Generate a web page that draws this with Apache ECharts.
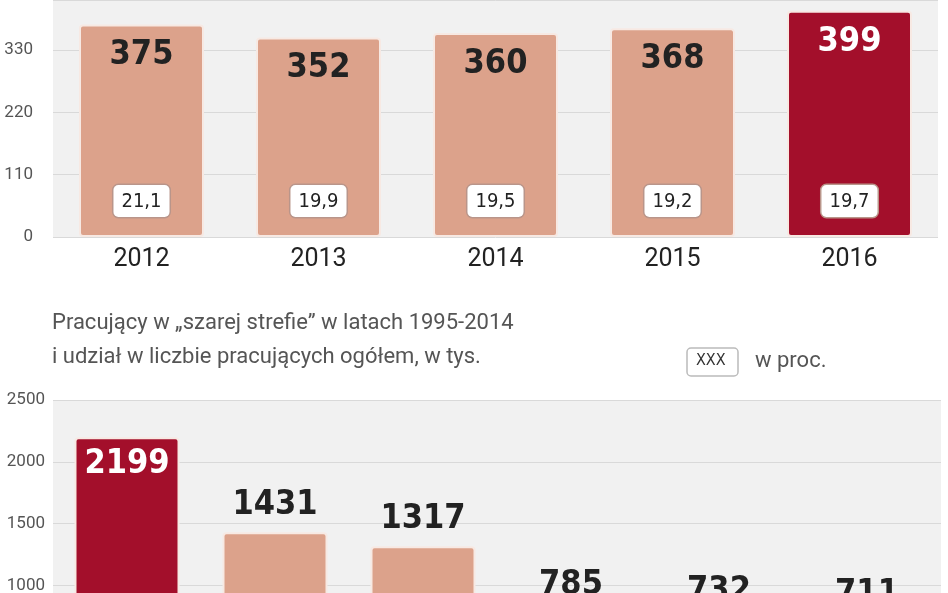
<!DOCTYPE html>
<html><head><meta charset="utf-8">
<script src="https://cdn.jsdelivr.net/npm/echarts@6/dist/echarts.min.js"></script>
<style>html,body{margin:0;background:#fff}#c{width:948px;height:593px}</style>
</head><body><div id="c"></div>
<script>
// górny wykres
const topYears = ['2012', '2013', '2014', '2015', '2016']
const topValues = [375, 352, 360, 368, 399]
const topPct = ['21,1', '19,9', '19,5', '19,2', '19,7']
// dolny wykres
const botCats = ['1995', '2004', '2009', '2010', '2012', '2014']
const botValues = [2199, 1431, 1317, 785, 732, 711]

const PINK = '#dca28b'
const RED = '#a30f2b'
const NUM_FONT = '"Liberation Sans Narrow", "DejaVu Sans Condensed", "Roboto", sans-serif'

let chart = echarts.init(document.getElementById('c'))

let topData = topValues.map((v, i) => ({
  value: v,
  itemStyle: { color: i === topValues.length - 1 ? RED : PINK },
  label: { color: i === topValues.length - 1 ? '#fff' : '#222' }
}))
let botData = botValues.map((v, i) => ({
  value: v,
  itemStyle: { color: i === 0 ? RED : PINK },
  label: i === 0 ? { position: 'insideTop', color: '#fff' } : { position: 'top', color: '#222' }
}))

let option = {
  animation: false,
  grid: [
    { left: 53, width: 885, top: 0, height: 237, show: true, backgroundColor: '#f1f1f1', borderWidth: 0, outerBoundsMode: 'none' },
    { left: 53, width: 888, top: 400, height: 309, show: true, backgroundColor: '#f1f1f1', borderWidth: 0, outerBoundsMode: 'none' }
  ],
  xAxis: [
    { type: 'category', gridIndex: 0, data: topYears, axisLine: { show: false }, axisTick: { show: false },
      axisLabel: { color: '#222', fontSize: 25, fontFamily: 'Roboto', margin: 10 } },
    { type: 'category', gridIndex: 1, data: botCats, axisLine: { show: false }, axisTick: { show: false },
      axisLabel: { show: false } }
  ],
  yAxis: [
    { type: 'value', gridIndex: 0, min: 0, max: 418, interval: 110,
      axisLabel: { color: '#555', fontSize: 17, fontFamily: 'Roboto', margin: 20, showMaxLabel: false },
      splitLine: { lineStyle: { color: '#d9d9d9' } } },
    { type: 'value', gridIndex: 1, min: 0, max: 2500, interval: 500,
      axisLabel: { color: '#555', fontSize: 17, fontFamily: 'Roboto', margin: 8, formatter: v => String(v) },
      splitLine: { lineStyle: { color: '#d9d9d9' } } }
  ],
  graphic: [
    { type: 'text', left: 52, top: 312, style: { text: 'Pracujący w „szarej strefie” w latach 1995-2014', fontSize: 22, fill: '#555', fontFamily: 'Roboto' } },
    { type: 'text', left: 52, top: 346, style: { text: 'i udział w liczbie pracujących ogółem, w tys.', fontSize: 22, fill: '#555', fontFamily: 'Roboto' } },
    { type: 'rect', shape: { x: 687, y: 348, width: 51, height: 28, r: 4 }, style: { fill: '#fff', stroke: '#bbb', lineWidth: 1.5 } },
    { type: 'text', left: 696, top: 353, style: { text: 'XXX', fontSize: 16, fill: '#333', fontFamily: NUM_FONT } },
    { type: 'text', left: 755, top: 350, style: { text: 'w proc.', fontSize: 22, fill: '#555', fontFamily: 'Roboto' } }
  ],
  series: [
    { type: 'bar', xAxisIndex: 0, yAxisIndex: 0, data: topData, barWidth: 125,
      itemStyle: { borderColor: '#f7e9e3', borderWidth: 2, borderRadius: 3 },
      label: { show: true, position: 'insideTop', distance: 14, fontSize: 34, fontWeight: 'bold', fontFamily: NUM_FONT } },
    { type: 'bar', xAxisIndex: 0, yAxisIndex: 0, data: topValues, barWidth: 125, barGap: '-100%',
      itemStyle: { color: 'transparent' }, silent: true,
      label: { show: true, position: 'insideBottom', distance: 20, formatter: p => topPct[p.dataIndex],
        fontSize: 20, color: '#222', fontFamily: NUM_FONT, backgroundColor: '#fff',
        borderColor: '#b9958a', borderWidth: 1.5, borderRadius: 5, padding: [7, 8, 5, 8] } },
    { type: 'bar', xAxisIndex: 1, yAxisIndex: 1, data: botData, barWidth: 105,
      itemStyle: { borderColor: '#f7e9e3', borderWidth: 2, borderRadius: 3 },
      label: { show: true, distance: 10, fontSize: 34, fontWeight: 'bold', fontFamily: NUM_FONT } }
  ]
}
chart.setOption(option)
</script></body></html>
